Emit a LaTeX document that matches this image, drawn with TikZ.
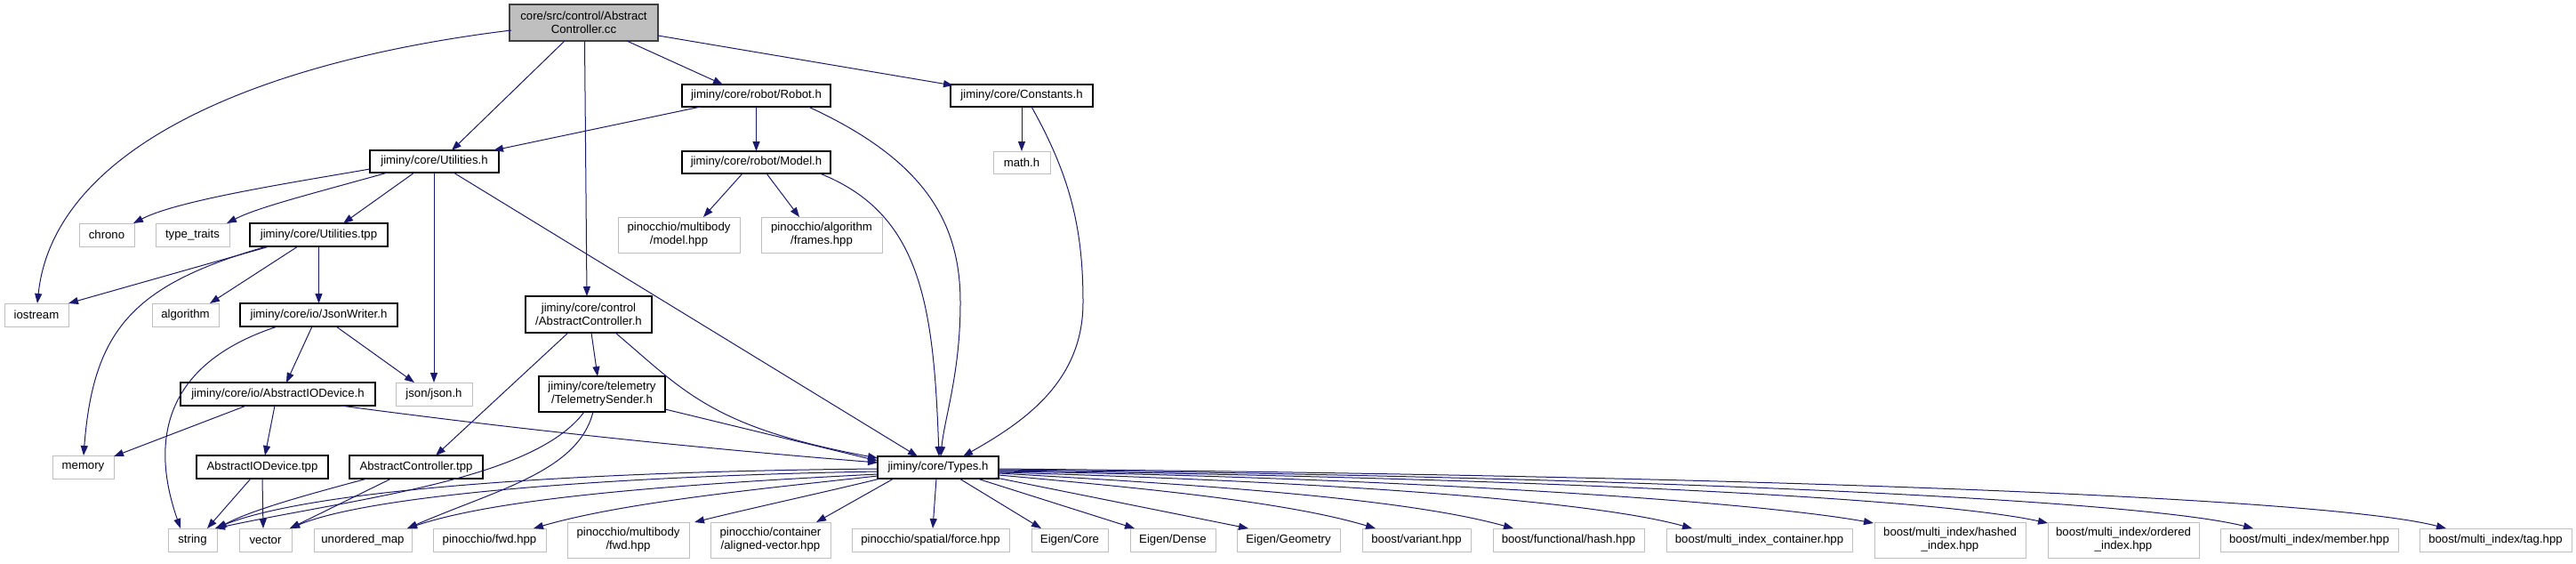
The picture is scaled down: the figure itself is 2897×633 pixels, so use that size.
\documentclass[tikz,border=0pt]{standalone}
\usepackage{fontspec}
\setmainfont{Liberation Sans}
\usetikzlibrary{arrows.meta,calc}
\definecolor{edgeblue}{HTML}{191970}
\definecolor{extgray}{HTML}{BFBFBF}
\definecolor{rootfill}{HTML}{BFBFBF}
\definecolor{rootdraw}{HTML}{404040}
\begin{document}
\begin{tikzpicture}[x=1pt,y=-1pt,
 box/.style={inner sep=0pt, align=center, font=\fontsize{13.2}{15}\selectfont, fill=white},
 wh/.style 2 args={minimum width=#1pt, minimum height=#2pt},
 doc/.style={box, draw=black, line width=1.3pt},
 ext/.style={box, draw=extgray, line width=1pt},
 rootbox/.style={box, fill=rootfill, draw=rootdraw, line width=1.3pt},
 e/.style={draw=edgeblue, line width=1pt, -{Triangle[length=11pt,width=8pt]}},
]
\useasboundingbox (0,0) rectangle (2897,633);
% nodes
\node[rootbox, wh={167}{41}] (root) at (656.5,25.5) {core/src/control/Abstract\\Controller.cc};
\node[doc, wh={167}{25}] (robot) at (850.5,107.5) {jiminy/core/robot/Robot.h};
\node[doc, wh={160}{25}] (const) at (1149,107.5) {jiminy/core/Constants.h};
\node[doc, wh={145}{25}] (util) at (488.5,181.5) {jiminy/core/Utilities.h};
\node[doc, wh={167}{25}] (model) at (850.5,182.5) {jiminy/core/robot/Model.h};
\node[ext, wh={64}{25}] (math) at (1149,182.5) {math.h};
\node[ext, wh={62}{26}] (chrono) at (120,264) {chrono};
\node[ext, wh={83}{26}] (tt) at (216.5,264) {type\_traits};
\node[doc, wh={155}{26}] (utpp) at (358.5,264) {jiminy/core/Utilities.tpp};
\node[ext, wh={137}{40}] (pmodel) at (763.5,264) {pinocchio/multibody\\/model.hpp};
\node[ext, wh={136}{40}] (pframes) at (924,264) {pinocchio/algorithm\\/frames.hpp};
\node[ext, wh={72}{26}] (iostream) at (41,354) {iostream};
\node[ext, wh={75}{26}] (algo) at (208.5,354) {algorithm};
\node[doc, wh={177}{26}] (jw) at (358.5,354) {jiminy/core/io/JsonWriter.h};
\node[doc, wh={142}{41}] (actrlh) at (662,353.5) {jiminy/core/control\\/AbstractController.h};
\node[doc, wh={219}{26}] (aiodev) at (312.5,443) {jiminy/core/io/AbstractIODevice.h};
\node[ext, wh={86}{26}] (json) at (488,443) {json/json.h};
\node[doc, wh={142}{40}] (telem) at (677,443) {jiminy/core/telemetry\\/TelemetrySender.h};
\node[ext, wh={69}{26}] (memory) at (93.5,525) {memory};
\node[doc, wh={148}{26}] (aiotpp) at (295,525) {AbstractIODevice.tpp};
\node[doc, wh={150}{26}] (actrltpp) at (468,525) {AbstractController.tpp};
\node[doc, wh={136}{25}] (types) at (1055,525.5) {jiminy/core/Types.h};
\node[ext, wh={55}{26}] (string) at (216.5,607) {string};
\node[ext, wh={59}{26}] (vector) at (298.5,607) {vector};
\node[ext, wh={110}{26}] (umap) at (408,607) {unordered\_map};
\node[ext, wh={127}{26}] (pfwd) at (550.5,607) {pinocchio/fwd.hpp};
\node[ext, wh={137}{40}] (pmbfwd) at (706.5,607) {pinocchio/multibody\\/fwd.hpp};
\node[ext, wh={135}{40}] (aligned) at (866.5,607) {pinocchio/container\\/aligned-vector.hpp};
\node[ext, wh={177}{26}] (force) at (1046.5,607) {pinocchio/spatial/force.hpp};
\node[ext, wh={86}{26}] (ecore) at (1203,607) {Eigen/Core};
\node[ext, wh={96}{26}] (edense) at (1319,607) {Eigen/Dense};
\node[ext, wh={116}{26}] (egeo) at (1449,607) {Eigen/Geometry};
\node[ext, wh={122}{26}] (bvar) at (1593,607) {boost/variant.hpp};
\node[ext, wh={170}{26}] (bhash) at (1764,607) {boost/functional/hash.hpp};
\node[ext, wh={209}{26}] (mic) at (1978.5,607) {boost/multi\_index\_container.hpp};
\node[ext, wh={170}{40}] (hashed) at (2193,607) {boost/multi\_index/hashed\\\_index.hpp};
\node[ext, wh={170}{40}] (ordered) at (2388,607) {boost/multi\_index/ordered\\\_index.hpp};
\node[ext, wh={200}{26}] (member) at (2597,607) {boost/multi\_index/member.hpp};
\node[ext, wh={171}{26}] (tag) at (2806.5,607) {boost/multi\_index/tag.hpp};
% edges from root
\draw[e] ($(root)+(-81.5,8.5)$) .. controls (280,70) and (60,170) .. ($(iostream)+(1,-13)$);
\draw[e] ($(root)+(-21.5,20.5)$) -- ($(util)+(19.5,-12.5)$);
\draw[e] ($(root)+(1,20.5)$) -- ($(actrlh)+(-2,-20.5)$);
\draw[e] ($(root)+(48.5,20.5)$) -- ($(robot)+(-37.5,-12.5)$);
\draw[e] ($(root)+(83.5,14.5)$) -- ($(const)+(-77,-11.5)$);
% robot
\draw[e] ($(robot)+(-62.5,12.5)$) -- ($(util)+(66.5,-12.5)$);
\draw[e] ($(robot)+(0,12.5)$) -- ($(model)+(0,-12.5)$);
\draw[e] ($(robot)+(58.5,12.5)$) .. controls (1040,180) and (1080,250) .. (1080,340) .. controls (1080,420) and (1062,470) .. ($(types)+(3,-12.5)$);
% model
\draw[e] ($(model)+(-15.5,12.5)$) -- ($(pmodel)+(27.5,-20)$);
\draw[e] ($(model)+(11.5,12.5)$) -- ($(pframes)+(-25,-20)$);
\draw[e] ($(model)+(71.5,12.5)$) .. controls (1035,240) and (1050,340) .. ($(types)+(1,-12.5)$);
% constants
\draw[e] ($(const)+(0,12.5)$) -- ($(math)+(0,-12.5)$);
\draw[e] ($(const)+(11,12.5)$) .. controls (1205,200) and (1218,260) .. (1218,340) .. controls (1218,430) and (1150,475) .. ($(types)+(28,-12.5)$);
% utilities.h
\draw[e] ($(util)+(-72.5,8.5)$) .. controls (330,205) and (200,225) .. ($(chrono)+(30,-13)$);
\draw[e] ($(util)+(-52.5,12.5)$) .. controls (350,218) and (290,233) .. ($(tt)+(38.5,-13)$);
\draw[e] ($(util)+(-22.5,12.5)$) -- ($(utpp)+(27.5,-13)$);
\draw[e] ($(util)+(-0.5,12.5)$) -- ($(json)+(0,-13)$);
\draw[e] ($(util)+(21.5,12.5)$) -- ($(types)+(-23,-12.5)$);
% utilities.tpp
\draw[e] ($(utpp)+(-55.5,13)$) -- ($(iostream)+(36,-13)$);
\draw[e] ($(utpp)+(-58.5,13)$) .. controls (150,320) and (105,370) .. ($(memory)+(0.5,-13)$);
\draw[e] ($(utpp)+(-23.5,13)$) -- ($(algo)+(27.5,-13)$);
\draw[e] ($(utpp)+(0,13)$) -- ($(jw)+(0,-13)$);
% jsonwriter
\draw[e] ($(jw)+(-46.5,13)$) .. controls (180,410) and (170,500) .. ($(string)+(-13.5,-13)$);
\draw[e] ($(jw)+(-7.5,13)$) -- ($(aiodev)+(9.5,-13)$);
\draw[e] ($(jw)+(19.5,13)$) -- ($(json)+(-22,-13)$);
% abstractiodevice.h
\draw[e] ($(aiodev)+(-35.5,13)$) -- ($(memory)+(34.5,-12)$);
\draw[e] ($(aiodev)+(-3.5,13)$) -- ($(aiotpp)+(3,-13)$);
\draw[e] ($(aiodev)+(70.5,13)$) .. controls (600,485) and (800,505) .. ($(types)+(-68,-5.5)$);
% abstractiodevice.tpp
\draw[e] ($(aiotpp)+(-13,13)$) -- ($(string)+(16.5,-13)$);
\draw[e] ($(aiotpp)+(0,13)$) -- ($(vector)+(-2.5,-13)$);
% abstractcontroller.h
\draw[e] ($(actrlh)+(-23,20.5)$) -- ($(actrltpp)+(22,-13)$);
\draw[e] ($(actrlh)+(3,20.5)$) -- ($(telem)+(-5,-20)$);
\draw[e] ($(actrlh)+(30,20.5)$) .. controls (770,440) and (800,480) .. ($(types)+(-68,-10.5)$);
% abstractcontroller.tpp
\draw[e] ($(actrltpp)+(-55,13)$) .. controls (330,560) and (280,575) .. ($(string)+(27.5,-13)$);
\draw[e] ($(actrltpp)+(-28,13)$) -- ($(vector)+(27.5,-13)$);
% telemetrysender
\draw[e] ($(telem)+(-20,20)$) .. controls (600,540) and (400,560) .. ($(string)+(25.5,-13)$);
\draw[e] ($(telem)+(-10,20)$) .. controls (650,530) and (560,550) .. ($(umap)+(50,-13)$);
\draw[e] ($(telem)+(71,17)$) -- ($(types)+(-68,-7.5)$);
% types.h fan
\draw[e] ($(types)+(-68,1.5)$) .. controls (650,530) and (350,550) .. ($(string)+(25.5,-13)$);
\draw[e] ($(types)+(-68,4.5)$) .. controls (700,535) and (420,555) .. ($(vector)+(27.5,-13)$);
\draw[e] ($(types)+(-68,7.5)$) .. controls (750,545) and (560,560) .. ($(umap)+(50,-13)$);
\draw[e] ($(types)+(-68,9.5)$) .. controls (850,550) and (700,565) .. ($(pfwd)+(49.5,-13)$);
\draw[e] ($(types)+(-65,12.5)$) .. controls (920,555) and (850,570) .. ($(pmbfwd)+(74.5,-20)$);
\draw[e] ($(types)+(-50,12.5)$) -- ($(aligned)+(51.5,-20)$);
\draw[e] ($(types)+(-2,12.5)$) -- ($(force)+(2.5,-13)$);
\draw[e] ($(types)+(24,12.5)$) -- ($(ecore)+(-32,-13)$);
\draw[e] ($(types)+(44,12.5)$) -- ($(edense)+(-43,-13)$);
\draw[e] ($(types)+(65,11.5)$) -- ($(egeo)+(-45,-13)$);
\draw[e] ($(types)+(68,8.5)$) .. controls (1300,550) and (1450,565) .. ($(bvar)+(-46,-13)$);
\draw[e] ($(types)+(68,6.5)$) .. controls (1350,545) and (1580,560) .. ($(bhash)+(-62,-13)$);
\draw[e] ($(types)+(68,5.5)$) .. controls (1450,540) and (1780,560) .. ($(mic)+(-75.5,-13)$);
\draw[e] ($(types)+(68,4.5)$) .. controls (1500,535) and (1950,560) .. ($(hashed)+(-86,-19)$);
\draw[e] ($(types)+(68,3.5)$) .. controls (1600,535) and (2150,555) .. ($(ordered)+(-85,-19)$);
\draw[e] ($(types)+(68,2.5)$) .. controls (1800,535) and (2400,560) .. ($(member)+(-63,-13)$);
\draw[e] ($(types)+(68,1.5)$) .. controls (2000,535) and (2620,560) .. ($(tag)+(-55.5,-13)$);
\end{tikzpicture}
\end{document}
